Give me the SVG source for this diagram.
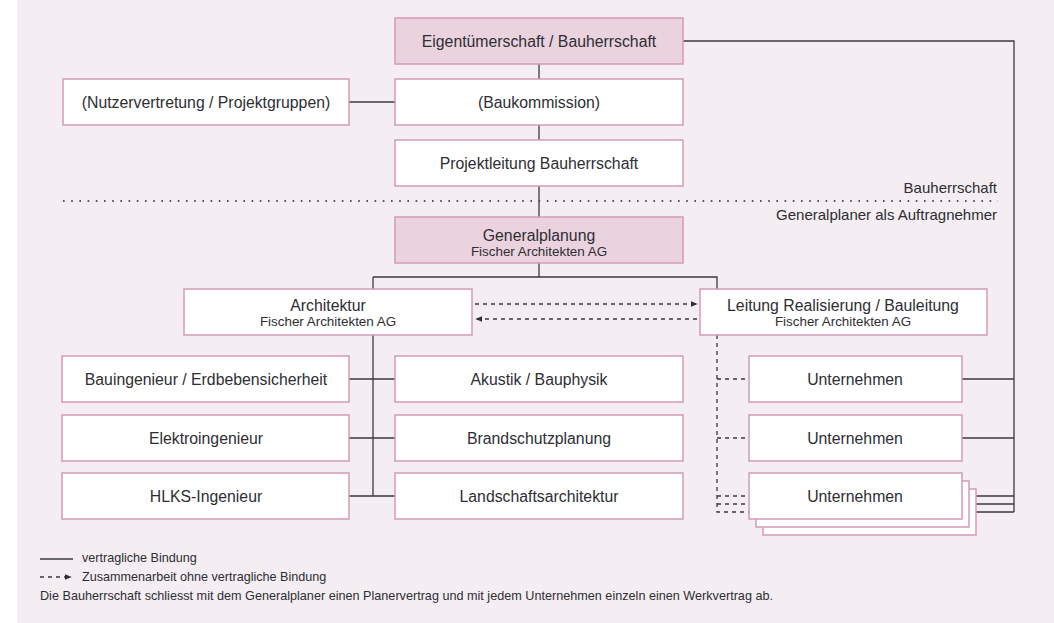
<svg xmlns="http://www.w3.org/2000/svg" width="1054" height="623" viewBox="0 0 1054 623">
<defs>
<style>
.n{fill:#fff;stroke:#d49ab6;stroke-width:1.5}
.h{fill:#ead3df;stroke:#d49ab6;stroke-width:1.5}
.t{font-family:"Liberation Sans",Arial,sans-serif;font-size:15.8px;fill:#2e2e33;text-anchor:middle;dominant-baseline:central}
.s{font-family:"Liberation Sans",Arial,sans-serif;font-size:13.4px;fill:#2e2e33;text-anchor:middle;dominant-baseline:central}
.l{font-family:"Liberation Sans",Arial,sans-serif;font-size:12.6px;fill:#2e2e33;dominant-baseline:central}
.c{fill:none;stroke:#3a3a40;stroke-width:1.3}
.d{fill:none;stroke:#3a3a40;stroke-width:1.3;stroke-dasharray:4 4}
</style>
<marker id="ah" viewBox="0 0 10 10" refX="9" refY="5" markerWidth="7" markerHeight="7" markerUnits="userSpaceOnUse" orient="auto">
<path d="M0,1 L10,5 L0,9 z" fill="#2e2e33"/>
</marker>
</defs>
<rect x="17" y="0" width="1037" height="623" fill="#f4edf2"/>

<g id="connectors">
<path class="c" d="M539,64 V217 M539,263 V277 M373,277 H717 V289 M373,277 V496"/>
<path class="c" d="M349,102 H395"/>
<path class="c" d="M683,41 H1014 V512"/>
<path class="c" d="M349,379 H395 M349,438 H395 M349,496 H395"/>
<path class="c" d="M962,379 H1014 M962,438 H1014 M962,496 H1014 M969,504 H1014 M976,512 H1014"/>
<path class="d" d="M475,304 H697" marker-end="url(#ah)"/>
<path class="d" d="M697,319 H476" marker-end="url(#ah)"/>
<path class="d" d="M717,335 V512 H749 M717,379 H749 M717,438 H749 M717,496 H749 M717,504 H749"/>
<line x1="63" y1="201" x2="998" y2="201" stroke="#555" stroke-width="1.8" stroke-dasharray="1.6 6.6"/>
</g>

<text class="l" x="997" y="187" text-anchor="end" style="font-size:15px">Bauherrschaft</text>
<text class="l" x="997" y="214" text-anchor="end" style="font-size:15px">Generalplaner als Auftragnehmer</text>

<g id="eigentuemer"><rect class="h" x="395" y="18" width="288" height="46"/><text class="t" x="539" y="41">Eigentümerschaft / Bauherrschaft</text></g>
<g id="nutzer"><rect class="n" x="63" y="79" width="286" height="46"/><text class="t" x="206" y="102">(Nutzervertretung / Projektgruppen)</text></g>
<g id="baukommission"><rect class="n" x="395" y="79" width="288" height="46"/><text class="t" x="539" y="102">(Baukommission)</text></g>
<g id="projektleitung"><rect class="n" x="395" y="140" width="288" height="46"/><text class="t" x="539" y="163">Projektleitung Bauherrschaft</text></g>
<g id="generalplanung"><rect class="h" x="395" y="217" width="288" height="46"/><text class="t" x="539" y="235">Generalplanung</text><text class="s" x="539" y="251">Fischer Architekten AG</text></g>
<g id="architektur"><rect class="n" x="184" y="289" width="288" height="46"/><text class="t" x="328" y="305">Architektur</text><text class="s" x="328" y="321">Fischer Architekten AG</text></g>
<g id="leitung"><rect class="n" x="700" y="289" width="287" height="46"/><text class="t" x="843" y="305">Leitung Realisierung / Bauleitung</text><text class="s" x="843" y="321">Fischer Architekten AG</text></g>
<g id="bauingenieur"><rect class="n" x="62" y="356" width="287" height="46"/><text class="t" x="206" y="379">Bauingenieur / Erdbebensicherheit</text></g>
<g id="elektro"><rect class="n" x="62" y="415" width="287" height="46"/><text class="t" x="206" y="438">Elektroingenieur</text></g>
<g id="hlks"><rect class="n" x="62" y="473" width="287" height="46"/><text class="t" x="206" y="496">HLKS-Ingenieur</text></g>
<g id="akustik"><rect class="n" x="395" y="356" width="288" height="46"/><text class="t" x="539" y="379">Akustik / Bauphysik</text></g>
<g id="brandschutz"><rect class="n" x="395" y="415" width="288" height="46"/><text class="t" x="539" y="438">Brandschutzplanung</text></g>
<g id="landschaft"><rect class="n" x="395" y="473" width="288" height="46"/><text class="t" x="539" y="496">Landschaftsarchitektur</text></g>
<g id="unternehmen1"><rect class="n" x="749" y="356" width="213" height="46"/><text class="t" x="855" y="379">Unternehmen</text></g>
<g id="unternehmen2"><rect class="n" x="749" y="415" width="213" height="46"/><text class="t" x="855" y="438">Unternehmen</text></g>
<g id="unternehmen3">
<rect class="n" x="763" y="489" width="213" height="46"/>
<rect class="n" x="756" y="481" width="213" height="46"/>
<rect class="n" x="749" y="473" width="213" height="46"/>
<text class="t" x="855" y="496">Unternehmen</text>
</g>

<g id="legend">
<line class="c" x1="40" y1="559" x2="73" y2="559"/>
<text class="l" x="82" y="558">vertragliche Bindung</text>
<line class="d" x1="40" y1="577" x2="71" y2="577" stroke-dasharray="3.5 3" marker-end="url(#ah)"/>
<text class="l" x="82" y="577">Zusammenarbeit ohne vertragliche Bindung</text>
<text class="l" x="40" y="596" textLength="733" lengthAdjust="spacingAndGlyphs">Die Bauherrschaft schliesst mit dem Generalplaner einen Planervertrag und mit jedem Unternehmen einzeln einen Werkvertrag ab.</text>
</g>
</svg>
